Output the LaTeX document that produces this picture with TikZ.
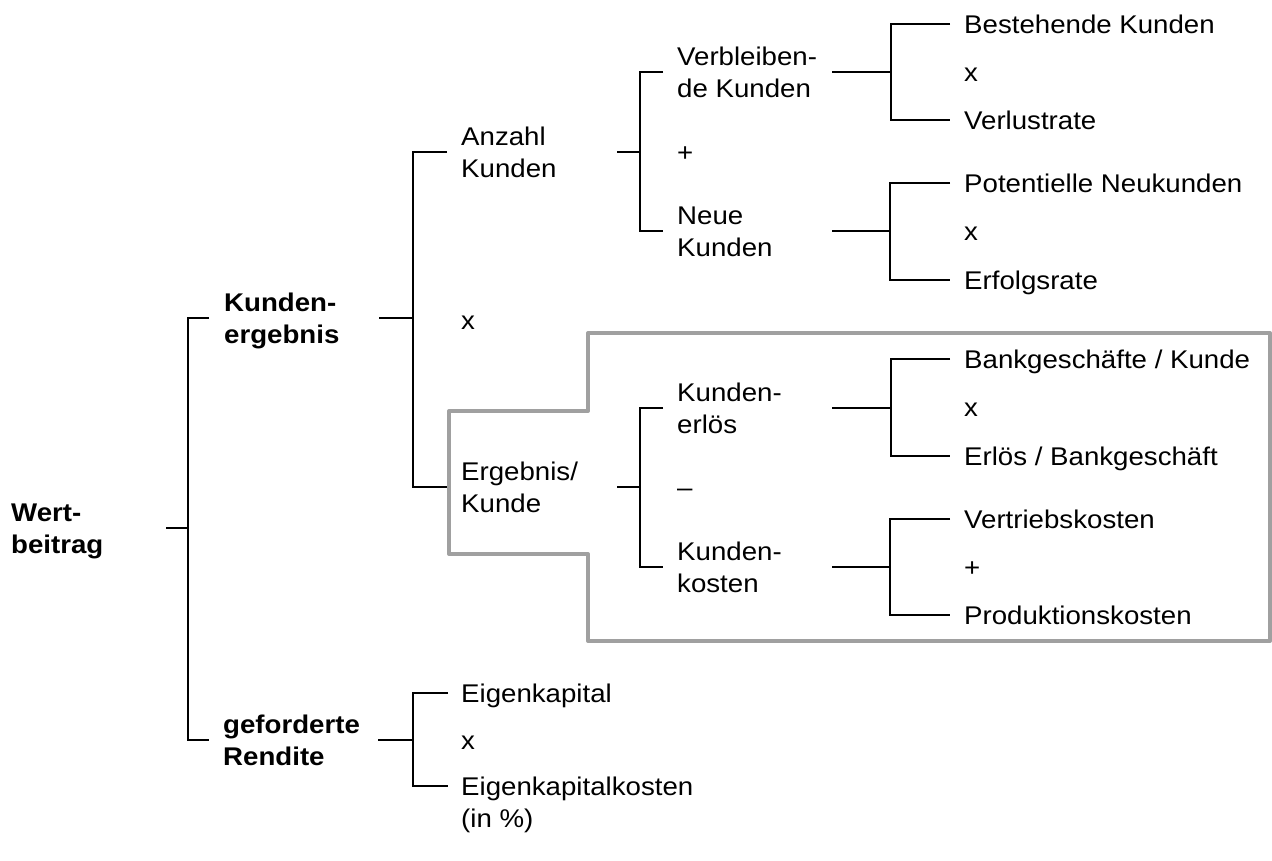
\documentclass[tikz,border=0pt]{standalone}
\usepackage{fontspec}
\setmainfont{Liberation Sans}[FakeStretch=1.08]
\newcommand\lblfont{\fontsize{25.6}{32}\selectfont}
\definecolor{framegray}{RGB}{160,160,160}
\begin{document}
\begin{tikzpicture}[x=1pt,y=-1pt,
  lbl/.style={anchor=base west,inner sep=0pt,align=left,font=\lblfont},
  head/.style={lbl,font=\lblfont\bfseries},
  br/.style={line width=1.8pt},
  frame/.style={line width=4pt,draw=framegray,line join=round}]
\useasboundingbox (0,0) rectangle (1272,860);

% highlighted sub-tree of the result per customer
\draw[frame] (449,411) -- (588,411) -- (588,333) -- (1270,333) -- (1270,641)
  -- (588,641) -- (588,554) -- (449,554) -- cycle;

% labels (positions are the baseline of the last line), level 0 and 1
\node[head] (wb)  at (11,553.5)  {Wert-\\beitrag};
\node[head] (ke)  at (224,343.7) {Kunden-\\ergebnis};
\node[head] (gr)  at (223,765.5) {geforderte\\Rendite};

% level 2
\node[lbl] (anz)  at (461,177)   {Anzahl\\Kunden};
\node[lbl] (opa)  at (461,329)   {x};
\node[lbl] (erg)  at (461,512.5) {Ergebnis/\\Kunde};
\node[lbl] (ek)   at (461,702)   {Eigenkapital};
\node[lbl] (opb)  at (461,749)   {x};
\node[lbl] (ekk)  at (461,827)   {Eigenkapitalkosten\\(in \%)};

% level 3
\node[lbl] (vk)   at (677,97)    {Verbleiben-\\de Kunden};
\node[lbl] (opc)  at (677,161)   {+};
\node[lbl] (nk)   at (677,256.5) {Neue\\Kunden};
\node[lbl] (ker)  at (677,433)   {Kunden-\\erlös};
\node[lbl] (opd)  at (677,496)   {–};
\node[lbl] (kko)  at (677,592.5) {Kunden-\\kosten};

% level 4
\node[lbl] (bk)   at (964,33)    {Bestehende Kunden};
\node[lbl] (ope)  at (964,81)    {x};
\node[lbl] (vr)   at (964,129)   {Verlustrate};
\node[lbl] (pn)   at (964,192)   {Potentielle Neukunden};
\node[lbl] (opf)  at (964,240)   {x};
\node[lbl] (er)   at (964,289)   {Erfolgsrate};
\node[lbl] (bg)   at (964,368)   {Bankgeschäfte / Kunde};
\node[lbl] (opg)  at (964,416)   {x};
\node[lbl] (eb)   at (964,465)   {Erlös / Bankgeschäft};
\node[lbl] (vt)   at (964,528)   {Vertriebskosten};
\node[lbl] (oph)  at (964,576)   {+};
\node[lbl] (pk)   at (964,624)   {Produktionskosten};

% bracket points: stub start (p), junction (j), branch ends (a, b)
\coordinate (p0) at (166,528); \coordinate (j0) at (188,528);
\coordinate (a0) at (209,318); \coordinate (b0) at (209,740);
\coordinate (p1) at (379,318); \coordinate (j1) at (413,318);
\coordinate (a1) at (447,152); \coordinate (b1) at (447,487);
\coordinate (p2) at (378,740); \coordinate (j2) at (413,740);
\coordinate (a2) at (448,693); \coordinate (b2) at (448,786);
\coordinate (p3) at (617,152); \coordinate (j3) at (640,152);
\coordinate (a3) at (663,72);  \coordinate (b3) at (663,231);
\coordinate (p4) at (617,487); \coordinate (j4) at (640,487);
\coordinate (a4) at (663,408); \coordinate (b4) at (663,567);
\coordinate (p5) at (832,72);  \coordinate (j5) at (891,72);
\coordinate (a5) at (950,24);  \coordinate (b5) at (950,120);
\coordinate (p6) at (832,231); \coordinate (j6) at (890,231);
\coordinate (a6) at (950,183); \coordinate (b6) at (950,280);
\coordinate (p7) at (832,408); \coordinate (j7) at (891,408);
\coordinate (a7) at (950,359); \coordinate (b7) at (950,456);
\coordinate (p8) at (832,567); \coordinate (j8) at (890,567);
\coordinate (a8) at (950,519); \coordinate (b8) at (950,615);

\foreach \i in {0,...,8}{
  \draw[br] (p\i) -- (j\i);
  \draw[br] (a\i) -- (a\i -| j\i) -- (b\i -| j\i) -- (b\i);
}
\end{tikzpicture}
\end{document}
